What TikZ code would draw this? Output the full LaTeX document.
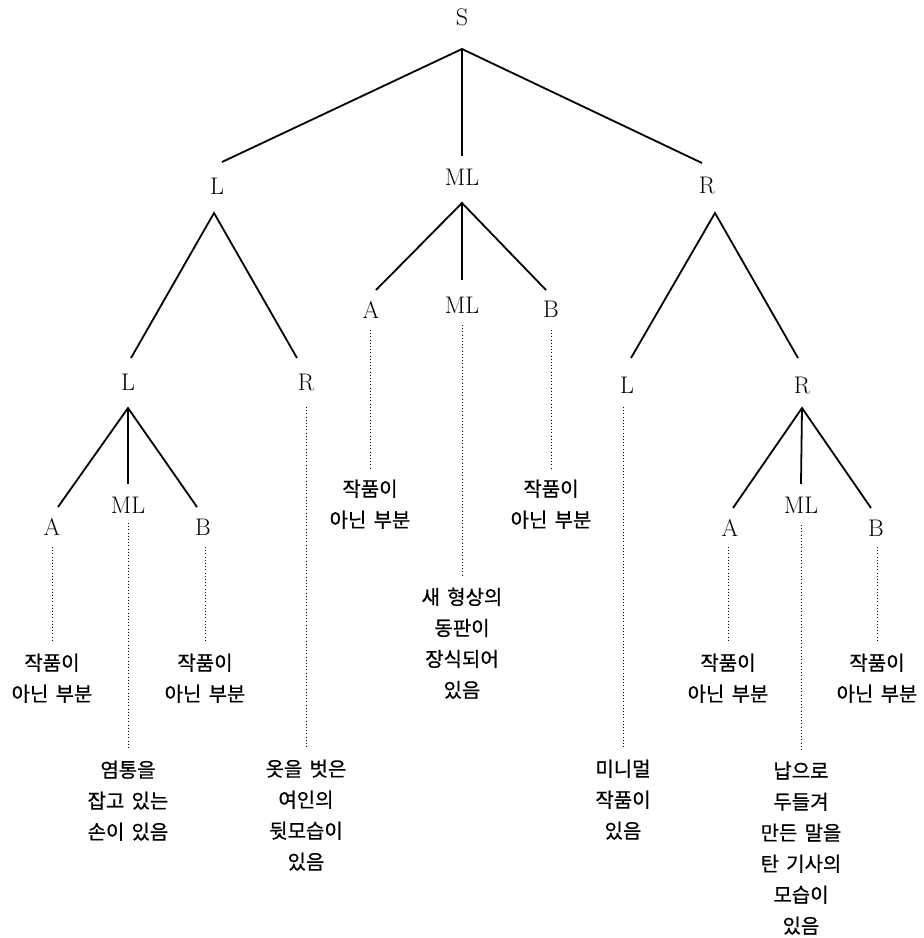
\documentclass[tikz,border=0pt]{standalone}
\usepackage{fontspec}
\newfontfamily\kr[WordSpace=1.6,FakeBold=0.6]{Noto Sans CJK KR}
\tikzset{
  lab/.style={font=\fontsize{24}{28}\selectfont, inner sep=0pt},
  txt/.style={font=\kr\fontsize{20}{31}\selectfont, align=center, anchor=north, inner xsep=0pt, inner ysep=10.5pt},
  edge/.style={line width=1.8pt},
  dotline/.style={line width=1pt, dash pattern=on 1pt off 2.2pt},
}
\begin{document}
\begin{tikzpicture}[x=1pt,y=-1pt]
\useasboundingbox (0,0) rectangle (924,938);
% labels
\node[lab] (S) at (462,17) {S};
\node[lab] (L) at (217,186) {L};
\node[lab] (M) at (462,177) {ML};
\node[lab] (R) at (707,185) {R};
\node[lab] (LL) at (128,382) {L};
\node[lab] (LR) at (306,382) {R};
\node[lab] (MA) at (371,310) {A};
\node[lab] (MM) at (462,305) {ML};
\node[lab] (MB) at (551,309) {B};
\node[lab] (RL) at (627,385) {L};
\node[lab] (RR) at (802,385) {R};
\node[lab] (LLA) at (52,527) {A};
\node[lab] (LLM) at (128,505) {ML};
\node[lab] (LLB) at (203,527) {B};
\node[lab] (RRA) at (730,528) {A};
\node[lab] (RRM) at (801,505) {ML};
\node[lab] (RRB) at (876,528) {B};
% texts
\node[txt] (tLLA) at (52,643) {작품이\\아닌 부분};
\node[txt] (tLLM) at (128,750) {염통을\\잡고 있는\\손이 있음};
\node[txt] (tLLB) at (205,643) {작품이\\아닌 부분};
\node[txt] (tLR) at (306,749) {옷을 벗은\\여인의\\뒷모습이\\있음};
\node[txt] (tMA) at (370,469) {작품이\\아닌 부분};
\node[txt] (tMM) at (462,577) {새 형상의\\동판이\\장식되어\\있음};
\node[txt] (tMB) at (551,469) {작품이\\아닌 부분};
\node[txt] (tRL) at (623,749) {미니멀\\작품이\\있음};
\node[txt] (tRRA) at (728,643) {작품이\\아닌 부분};
\node[txt] (tRRM) at (801,751) {납으로\\두들겨\\만든 말을\\탄 기사의\\모습이\\있음};
\node[txt] (tRRB) at (877,643) {작품이\\아닌 부분};
% solid edges
\draw[edge] ([shift={(5,-24)}]L.center) -- ([shift={(0,32)}]S.center) -- ([shift={(-5,-22)}]R.center);
\draw[edge] ([shift={(0,32)}]S.center) -- ([shift={(0,-21)}]M.center);
\draw[edge] ([shift={(3,-24)}]LL.center) -- ([shift={(-3,27)}]L.center) -- ([shift={(-9,-24)}]LR.center);
\draw[edge] ([shift={(5,-20)}]MA.center) -- ([shift={(0,26)}]M.center) -- ([shift={(-5,-19)}]MB.center);
\draw[edge] ([shift={(0,26)}]M.center) -- ([shift={(0,-25)}]MM.center);
\draw[edge] ([shift={(4,-27)}]RL.center) -- ([shift={(8,28)}]R.center) -- ([shift={(-4,-27)}]RR.center);
\draw[edge] ([shift={(6,-20)}]LLA.center) -- ([shift={(0,26)}]LL.center) -- ([shift={(-6,-20)}]LLB.center);
\draw[edge] ([shift={(0,26)}]LL.center) -- ([shift={(0,-21)}]LLM.center);
\draw[edge] ([shift={(3,-20)}]RRA.center) -- ([shift={(0,23)}]RR.center) -- ([shift={(-5,-20)}]RRB.center);
\draw[edge] ([shift={(0,23)}]RR.center) -- ([shift={(0,-21)}]RRM.center);
% dotted
\draw[dotline] ([shift={(0,20)}]LLA.center) -- (tLLA.north);
\draw[dotline] ([shift={(0,18)}]LLM.center) -- (tLLM.north);
\draw[dotline] ([shift={(2,20)}]LLB.center) -- (tLLB.north);
\draw[dotline] ([shift={(0,25)}]LR.center) -- (tLR.north);
\draw[dotline] ([shift={(-1,20)}]MA.center) -- (tMA.north);
\draw[dotline] ([shift={(0,20)}]MM.center) -- (tMM.north);
\draw[dotline] ([shift={(0,21)}]MB.center) -- (tMB.north);
\draw[dotline] ([shift={(-4,22)}]RL.center) -- (tRL.north);
\draw[dotline] ([shift={(-2,19)}]RRA.center) -- (tRRA.north);
\draw[dotline] ([shift={(0,20)}]RRM.center) -- (tRRM.north);
\draw[dotline] ([shift={(1,19)}]RRB.center) -- (tRRB.north);
\end{tikzpicture}
\end{document}
